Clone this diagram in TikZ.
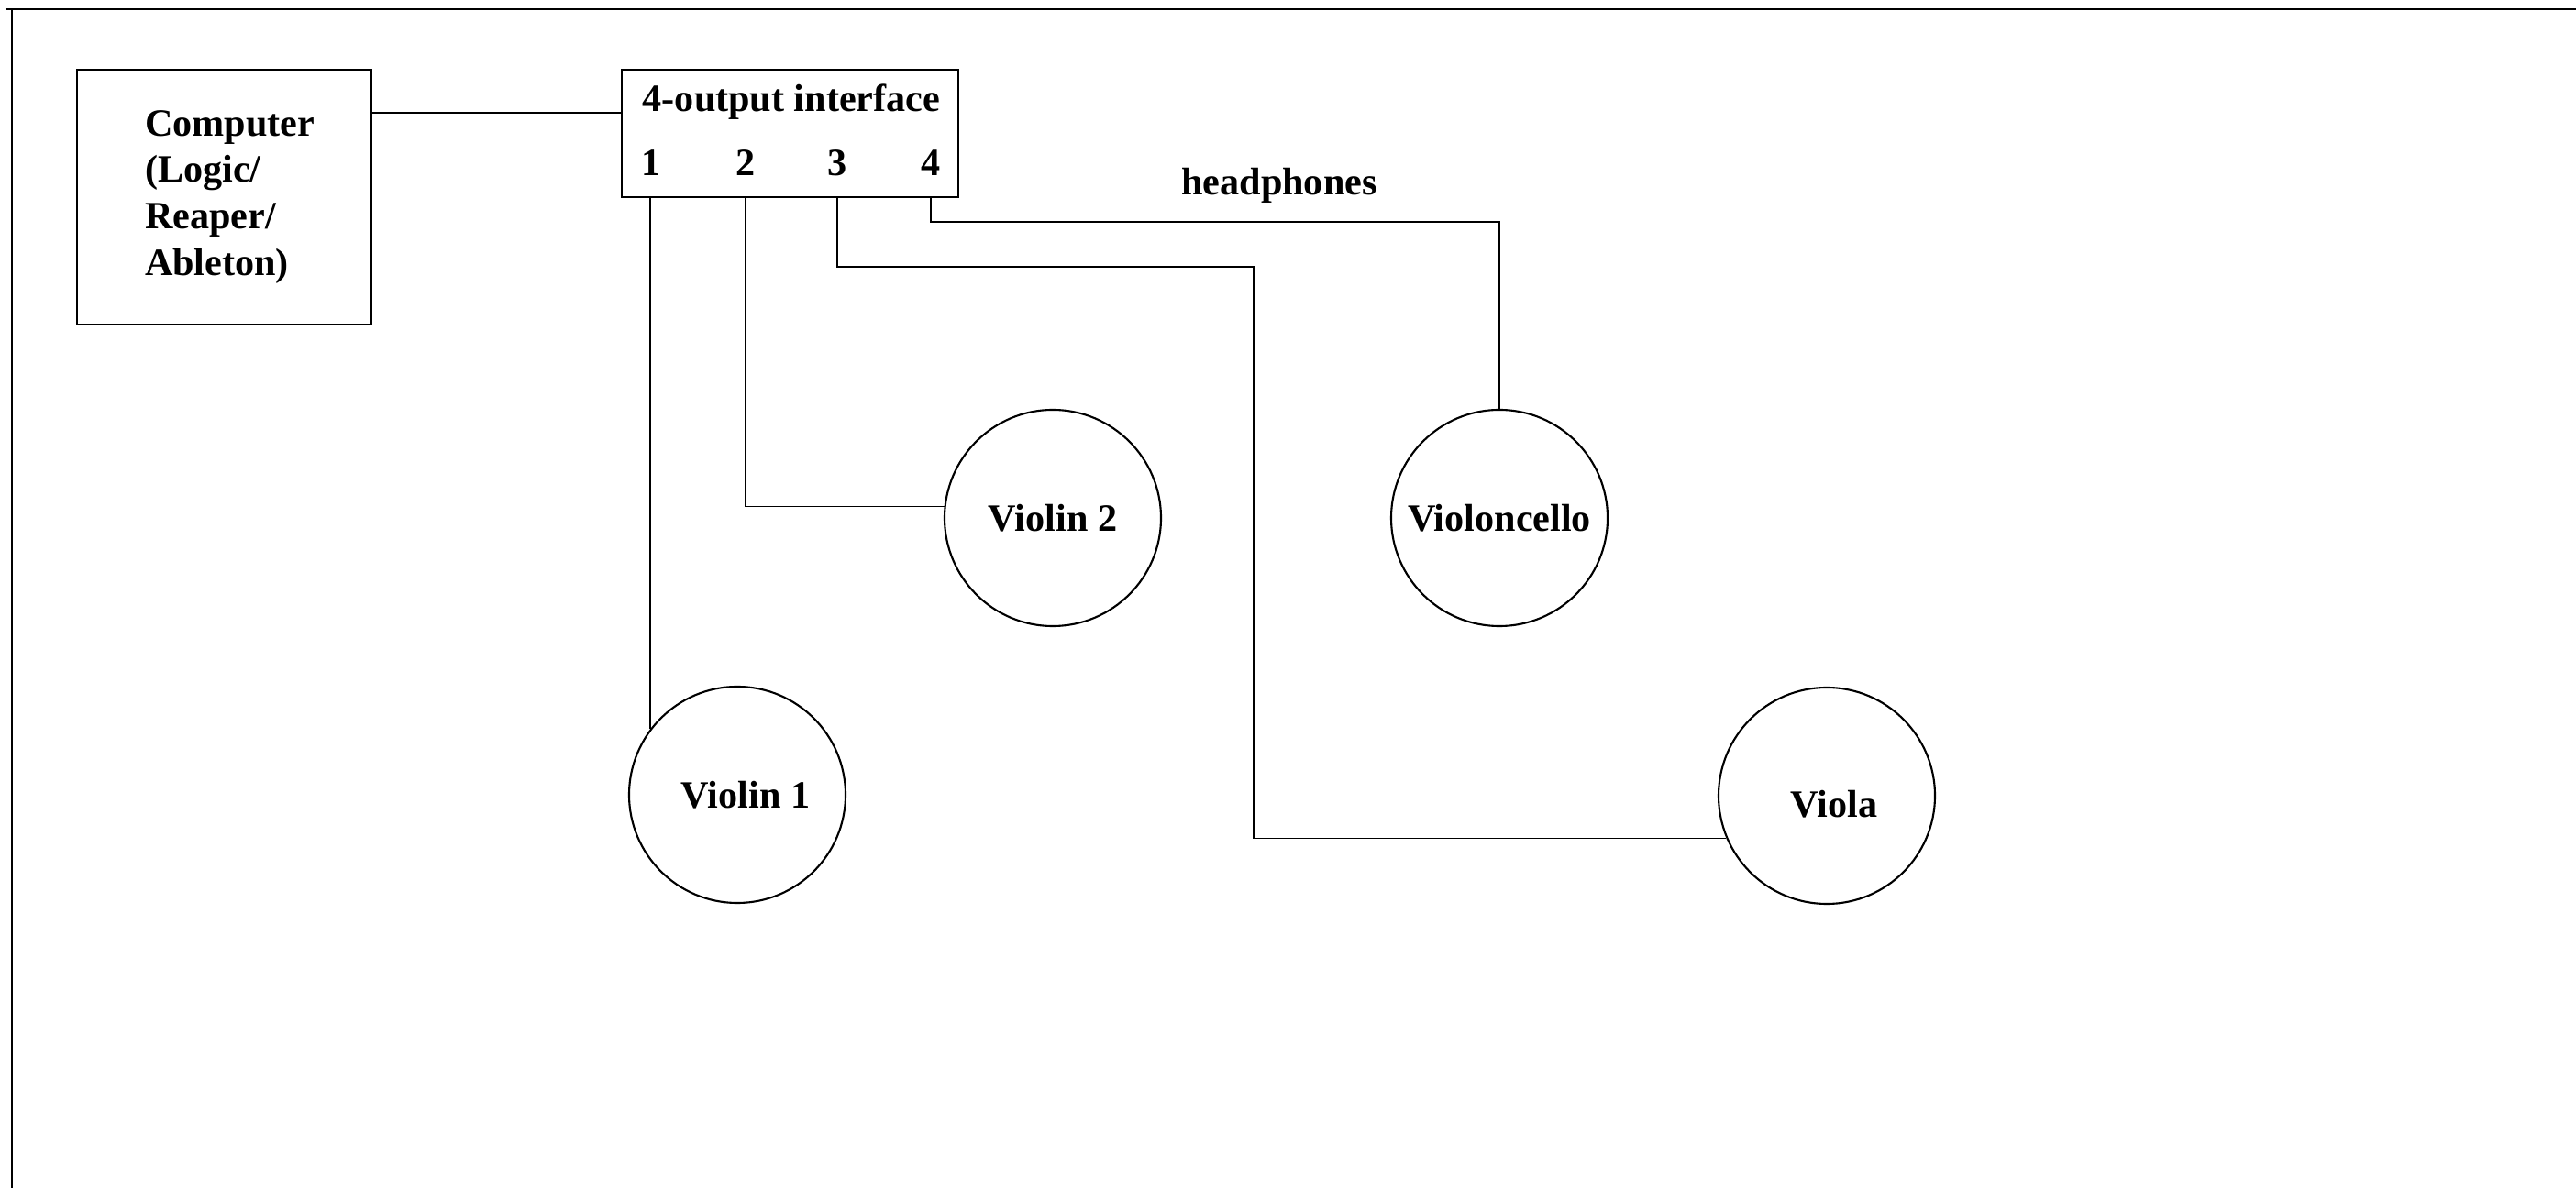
\documentclass[tikz,border=0pt]{standalone}
\usepackage{fontspec}
\setmainfont{Liberation Serif}
\usetikzlibrary{positioning,calc}

\begin{document}
\begin{tikzpicture}[x=1cm,y=1cm,
    font=\fontsize{12}{14.5}\selectfont\bfseries,
    unit/.style={draw, rectangle, line width=0.6pt, inner sep=0pt},
    player/.style={draw, circle, line width=0.6pt, minimum size=2.36cm, inner sep=0pt},
    cable/.style={line width=0.4pt},
    frame/.style={line width=0.8pt}]
    \useasboundingbox (0,0) rectangle (28.09,12.96);
    % frame (top and left edge only)
    \draw [frame] (0.06,12.86) -- (28.09,12.86);
    \draw [frame] (0.13,12.86) -- (0.13,0);

    % devices
    \node (computer) [unit, minimum width=3.21cm, minimum height=2.78cm, text width=1.73cm, align=left] at (2.445,10.81) {Computer\\(Logic/\\Reaper/\\Ableton)};
    \node (iface) [unit, minimum width=3.67cm, minimum height=1.39cm] at (8.615,11.505) {};
    \node (title) [anchor=base, inner sep=0pt] at (8.63,11.74) {4-output interface};
    \node (p1) [anchor=base, inner sep=0pt] at (7.10,11.04) {1};
    \node (p2) [anchor=base, inner sep=0pt] at (8.13,11.04) {2};
    \node (p3) [anchor=base, inner sep=0pt] at (9.13,11.04) {3};
    \node (p4) [anchor=base, inner sep=0pt] at (10.15,11.04) {4};

    % players
    \node (v1) [player] at (8.04,4.29) {\hspace*{0.18cm}Violin 1};
    \node (v2) [player] at (11.48,7.31) {Violin 2};
    \node (vc) [player] at (16.35,7.31) {Violoncello};
    \node (va) [player, text height=0.48cm, text depth=0cm] at (19.92,4.28) {\hspace*{0.16cm}Viola};

    \node (hp) at (13.95,10.94) {headphones};
    \coordinate (jack3) at (13.67,10.05);
    \coordinate (jack4) at (16.35,10.54);

    % cables
    \draw [cable] (computer.east |- 0,11.73) -- (iface.west |- 0,11.73);
    \draw [cable] (v1.143 |- iface.south) -- (v1.143);
    \draw [cable] (p2 |- iface.south) |- (v2.174);
    \draw [cable] (p3 |- iface.south) |- (jack3) |- (va.203);
    \draw [cable] (p4 |- iface.south) |- (jack4) -- (vc.north);
\end{tikzpicture}
\end{document}
